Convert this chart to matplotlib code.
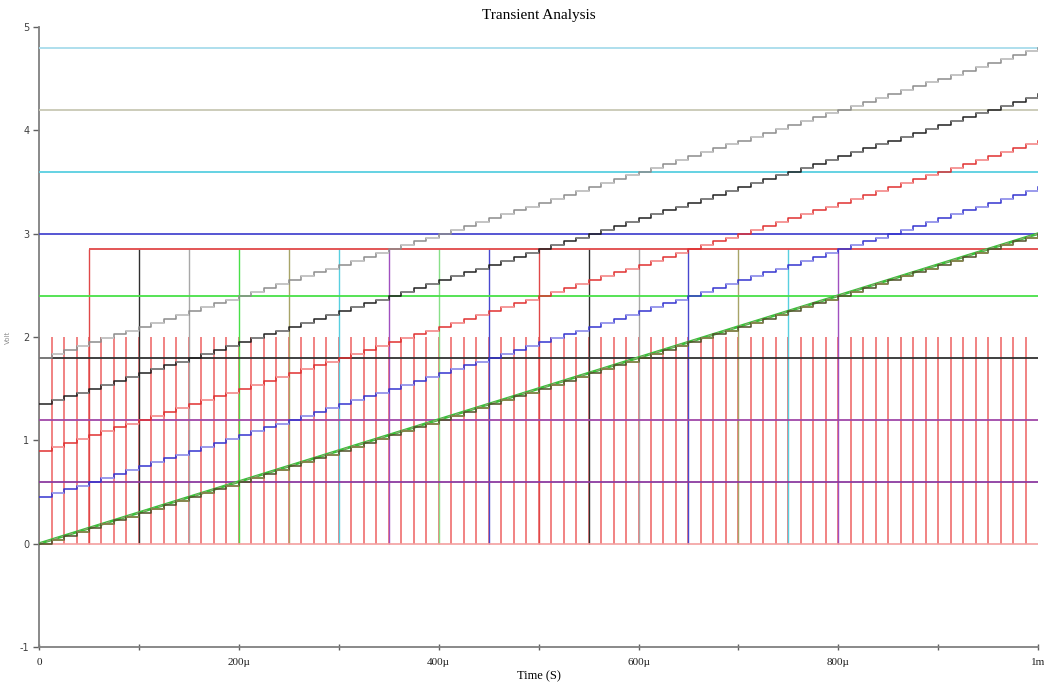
import matplotlib
matplotlib.use("Agg")
import matplotlib.pyplot as plt
import numpy as np

# time in microseconds, voltage in volts
t_end = 1000.0
clk_period = 12.5
clk_high = 2.0

# horizontal reference levels
ref_levels = [4.8, 4.2, 3.6, 3.0, 2.4, 1.8, 1.2, 0.6]
ref_colors = ["#a8dcec", "#c8c8b4", "#58cfe0", "#4848d0",
              "#48e048", "#303030", "#a048a8", "#8c3aa0"]

# enable pulses going to 2.85 V, one every 50 us
en_level = 2.85
en_times = [50, 100, 150, 200, 250, 300, 350, 400, 450, 500,
            550, 600, 650, 700, 750, 800]
en_colors = ["#e04848", "#303030", "#a8a8a8", "#48e048", "#a8a468", "#58cfe0",
             "#a050c0", "#88e088", "#4848d0", "#e04848", "#303030", "#a8a8a8",
             "#4848d0", "#a8a468", "#58cfe0", "#a050c0"]

# sampled ramps (start value at t=0, end value at t=1ms)
ramp_start = [1.8, 1.35, 0.9, 0.45, 0.0]
ramp_end = [4.8, 4.35, 3.9, 3.45, 3.0]
ramp_dark = ["#8c8c8c", "#202020", "#e03030", "#3434d0", "#505028"]
ramp_light = ["#cccccc", "#8c8c8c", "#f8a8a8", "#a8a8f0", "#8c8c50"]

fig = plt.figure(figsize=(10.44, 6.91), dpi=100)
ax = fig.add_axes([0.0374, 0.0637, 0.957, 0.8973])

# enable pulses: rising edges, then one shared high level in red
ax.vlines(en_times, 0, en_level, colors=en_colors, lw=1.0, zorder=2)
ax.hlines(en_level, en_times[0], t_end, color="#e04848", lw=1.3, zorder=2)

# clock pulses
clk_t = np.arange(0, t_end, clk_period)
ax.vlines(clk_t, 0, clk_high, color="#f07878", lw=1.3, zorder=1)
ax.hlines(0, 0, t_end, color="#f4a0a0", lw=1.2, zorder=2)

# reference levels
for lev, c in zip(ref_levels, ref_colors):
    ax.axhline(lev, color=c, lw=1.3, zorder=3)

# continuous input ramp (green)
ax.plot([0, t_end], [ramp_start[-1], ramp_end[-1]], color="#38c038", lw=2.0, zorder=4)
ax.plot([0, t_end], [ramp_start[-1], ramp_end[-1]], color="#a0a080", lw=0.8,
        ls=(0, (4, 3)), zorder=5)

# staircases sampled at each clock edge
step_t = np.append(clk_t, t_end)
for v0, v1, cd, cl in zip(ramp_start, ramp_end, ramp_dark, ramp_light):
    vals = v0 + (v1 - v0) * step_t / t_end
    ax.step(step_t, vals, where="post", color=cd, lw=1.1, zorder=6)
    ax.hlines(vals[1:-1:2], step_t[1:-1:2], step_t[2::2], color=cl, lw=1.2, zorder=7)

ax.set_xlim(0, t_end)
ax.set_ylim(-1, 5)
for s in ["top", "right"]:
    ax.spines[s].set_visible(False)
for s in ["left", "bottom"]:
    ax.spines[s].set_color("#808080")
    ax.spines[s].set_linewidth(1.3)

ax.set_yticks(range(-1, 6))
ax.set_yticklabels([str(v) for v in range(-1, 6)], fontsize=7, color="#404040",
                   family="DejaVu Sans")
ax.set_xticks([0, 200, 400, 600, 800, 1000])
ax.set_xticklabels(["0", "200µ", "400µ", "600µ", "800µ", "1m"], fontsize=8,
                   family="Liberation Serif", color="#202020")
ax.set_xticks([100, 300, 500, 700, 900], minor=True)
ax.tick_params(axis="y", length=4, width=1, color="#606060", pad=3)
ax.tick_params(axis="x", which="both", direction="inout", length=4, width=1,
               color="#606060", pad=6)

ax.set_title("Transient Analysis", family="Liberation Serif", fontsize=11, pad=6)
ax.set_xlabel("Time (S)", family="Liberation Serif", fontsize=9, labelpad=2)
ax.set_ylabel("Volt", fontsize=5, color="#909090", labelpad=6)

fig.savefig("out.png", dpi=100)
